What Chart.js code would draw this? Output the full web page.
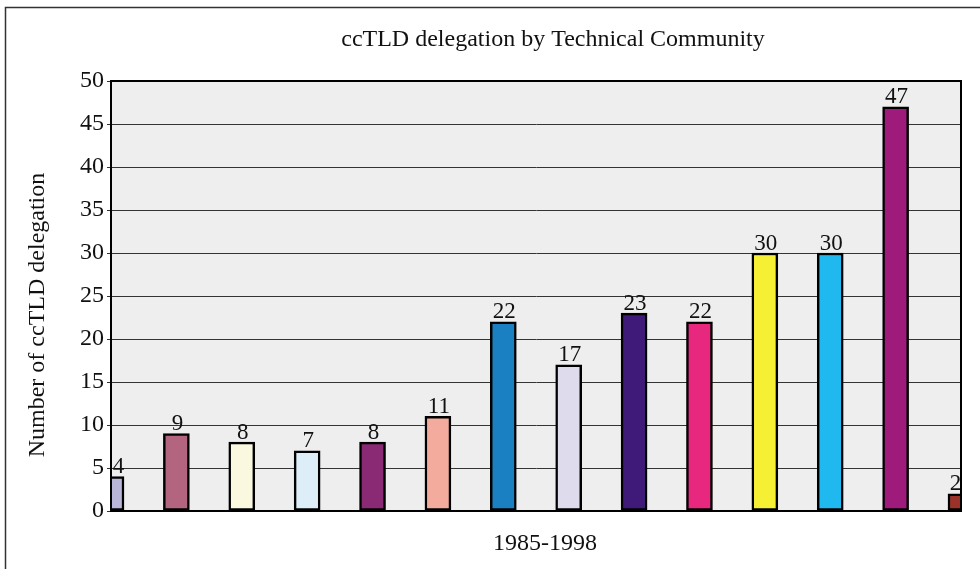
<!DOCTYPE html>
<html>
<head>
<meta charset="utf-8">
<script src="https://cdn.jsdelivr.net/npm/chart.js@4"></script>
<style>
  html, body { margin: 0; padding: 0; background: #fff; }
  #wrap { width: 980px; height: 569px; position: relative; }
</style>
</head>
<body>
<div id="wrap"><canvas id="chart"></canvas></div>
<script>
// Data
const categories = ["1", "2", "3", "4", "5", "6", "7", "8", "9", "10", "11", "12", "13", "14"];
const values = [4, 9, 8, 7, 8, 11, 22, 17, 23, 22, 30, 30, 47, 2];
const barColors = [
  "#b8b5d9", "#b3657f", "#faf8de", "#ddeef8", "#8a2a74", "#f2ab9c", "#1a80c2",
  "#dddbec", "#3f1a79", "#e8287e", "#f6f035", "#1fb9ef", "#9f1b7b", "#9b3227"
];
const yTicks = [0, 5, 10, 15, 20, 25, 30, 35, 40, 45, 50];

const chartTitle = "ccTLD delegation by Technical Community";
const yTitle = "Number of ccTLD delegation";
const xTitle = "1985-1998";

const SERIF = '"Liberation Serif", "Times New Roman", serif';

// frame, plot background, titles and border
const decor = {
  id: "decor",
  beforeDraw(chart) {
    const { ctx, chartArea: a } = chart;
    ctx.save();
    ctx.fillStyle = "#fff";
    ctx.fillRect(0, 0, chart.width, chart.height);
    ctx.strokeStyle = "#333";
    ctx.lineWidth = 1.5;
    ctx.beginPath();
    ctx.moveTo(5.5, chart.height);
    ctx.lineTo(5.5, 7.5);
    ctx.lineTo(chart.width, 7.5);
    ctx.stroke();
    ctx.fillStyle = "#eeeeee";
    ctx.fillRect(a.left, a.top, a.right - a.left, a.bottom - a.top);
    ctx.restore();
  },
  afterDraw(chart) {
    const { ctx, chartArea: a } = chart;
    ctx.save();
    ctx.strokeStyle = "#000";
    ctx.lineWidth = 2;
    ctx.strokeRect(a.left, a.top, a.right - a.left, a.bottom - a.top);

    ctx.fillStyle = "#111";
    ctx.textAlign = "center";
    ctx.textBaseline = "middle";
    ctx.font = "24px " + SERIF;
    ctx.fillText(chartTitle, 553, 40);
    ctx.fillText(xTitle, 545, 544);
    ctx.translate(38, 315);
    ctx.rotate(-Math.PI / 2);
    ctx.fillText(yTitle, 0, 0);
    ctx.restore();
  }
};

// value labels above the visible part of each bar
const valueLabels = {
  id: "valueLabels",
  afterDatasetsDraw(chart) {
    const { ctx, chartArea: a } = chart;
    const meta = chart.getDatasetMeta(0);
    ctx.save();
    ctx.fillStyle = "#111";
    ctx.font = "23px " + SERIF;
    ctx.textAlign = "center";
    ctx.textBaseline = "bottom";
    meta.data.forEach((bar, i) => {
      const l = Math.max(a.left, bar.x - bar.width / 2);
      const r = Math.min(a.right, bar.x + bar.width / 2);
      ctx.fillText(String(values[i]), (l + r) / 2 + 1, bar.y + 2);
    });
    ctx.restore();
  }
};

new Chart(document.getElementById("chart"), {
  type: "bar",
  data: {
    labels: categories,
    datasets: [{
      data: values,
      backgroundColor: barColors,
      borderColor: "#000",
      borderWidth: 2.5,
      borderSkipped: false,
      barThickness: 26
    }]
  },
  options: {
    responsive: true,
    maintainAspectRatio: false,
    animation: false,
    layout: { padding: { top: 81, right: 19, left: 0, bottom: 0 } },
    plugins: {
      legend: { display: false },
      tooltip: { enabled: false }
    },
    scales: {
      x: {
        offset: false,
        grid: { display: false, offset: false },
        border: { display: true, color: "#000", width: 2 },
        ticks: { display: false },
        afterFit(scale) { scale.height = 58; }
      },
      y: {
        min: 0,
        max: 50,
        afterBuildTicks(scale) { scale.ticks = yTicks.map(v => ({ value: v })); },
        grid: { color: "#333", lineWidth: 1, drawTicks: true, tickLength: 4 },
        border: { display: true, color: "#000", width: 2 },
        ticks: {
          color: "#111",
          padding: 3,
          font: { family: SERIF, size: 24 }
        },
        afterFit(scale) { scale.width = 111; }
      }
    }
  },
  plugins: [decor, valueLabels]
});
</script>
</body>
</html>
